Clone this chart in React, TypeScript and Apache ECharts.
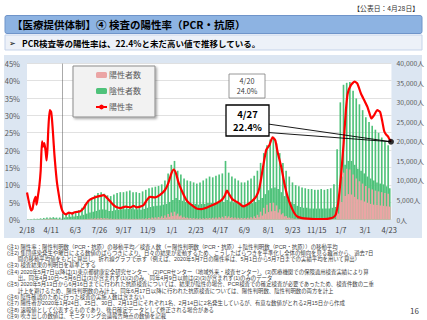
import React, { useEffect, useRef } from 'react';
import * as echarts from 'echarts';

const FONT = '"Noto Sans CJK JP", "Noto Sans", sans-serif';
const NOTE_FONT = '"Liberation Sans", "Noto Sans CJK JP", sans-serif';

// Day index 0 = 2020-02-18, ticks every 53 days
const START_UTC = Date.UTC(2020, 1, 18);
const TICK_DAYS = 53;

// 陽性率 (7-day moving average), [day index, %]
const positivityRate: [number, number][] = [
  [0, 7.8], [3, 5.8], [6, 4], [9, 2.6], [12, 3], [15, 5.1], [19, 6.5], [21, 4.3], [24, 6.8], [27, 9.5],
  [30, 14], [33, 22.5], [35, 21], [38, 22], [41, 19.5], [43, 17], [45, 20.5], [47, 26.5], [50, 31.5], [53, 31],
  [55, 28.6], [57, 25], [60, 19], [63, 14.3], [66, 10.4], [70, 7], [73, 4.7], [77, 2.7], [81, 1.8], [86, 1.5],
  [92, 2], [99, 1.7], [103, 2], [110, 2.2], [117, 2.4], [124, 3.2], [131, 4.7], [139, 5.8], [150, 6.4], [161, 6.8],
  [168, 7], [175, 6.3], [182, 5.3], [189, 4.3], [196, 3.6], [205, 3.3], [216, 3.7], [227, 3.5], [234, 3.9], [241, 3.5],
  [248, 3.7], [256, 4.2], [263, 5.6], [270, 6.5], [281, 6.4], [292, 7.1], [303, 8.5], [310, 10.4], [317, 13.3], [322, 14.4],
  [327, 13.3], [332, 10.9], [339, 8.5], [350, 5.6], [361, 4.2], [372, 3.2], [383, 3], [394, 3.4], [405, 4], [416, 4.7],
  [427, 5.6], [434, 6.8], [439, 8.3], [444, 7.2], [451, 5.8], [460, 5.1], [467, 4.5], [474, 3.8], [481, 4.1], [492, 5.1],
  [503, 6.6], [510, 9], [518, 15], [525, 20], [532, 21.4], [539, 23.7], [545, 22.8], [550, 19.5], [558, 15.2], [565, 10.4],
  [572, 6.6], [580, 3.7], [587, 1.8], [594, 0.8], [604, 0.4], [615, 0.25], [630, 0.15], [652, 0.15], [668, 0.4], [674, 0.8],
  [678, 1.5], [683, 4.7], [689, 12.3], [695, 21.9], [700, 31.5], [704, 36.3], [711, 38.7], [719, 39.7], [725, 39.2], [733, 36.3],
  [740, 34.4], [747, 32.5], [752, 30.5], [756, 29.1], [762, 30.1], [769, 31.5], [775, 31], [780, 28.2], [784, 25.5], [788, 24.5],
  [792, 24.0], [796, 23.0], [799, 22.4],
];

// Weekly readings (unit: 100人), week k covers days 7k..7k+6
// 検査人数 (陽性+陰性) weekday high / weekend low
const testsHigh = [
  1, 1, 2, 2, 3,
  4, 5, 5, 6, 5, 5,
  14, 15, 16, 19, 21, 24, 30, 40, 50,
  55, 62, 68, 70, 66, 62, 60, 64, 68, 70,
  70, 72, 74, 70, 70, 68, 72, 76, 80, 82,
  84, 86, 90, 100, 118, 140, 150, 125, 115, 105,
  100, 98, 95, 92, 95, 100, 105, 110, 108, 112,
  115, 118, 150, 120, 110, 105, 100, 95, 95, 100,
  105, 112, 125, 145, 170, 190, 205, 212, 195, 170,
  145, 125, 110, 95, 88, 85, 82, 80, 78, 78,
  76, 76, 78, 76, 78, 80, 90, 180, 300, 345,
  350, 352, 330, 310, 295, 280, 262, 250, 240, 230,
  222, 210, 200, 190,
];
const testsLow = [
  0.5, 0.5, 1, 1, 1,
  2, 2, 3, 3, 2, 2,
  5, 6, 7, 8, 9, 10, 12, 15, 18,
  20, 22, 25, 26, 25, 22, 22, 24, 25, 26,
  26, 27, 28, 26, 26, 25, 27, 30, 32, 34,
  35, 36, 38, 40, 45, 50, 55, 50, 48, 45,
  42, 40, 40, 38, 40, 40, 42, 42, 42, 44,
  45, 45, 50, 46, 44, 42, 40, 38, 38, 40,
  42, 45, 50, 55, 65, 75, 80, 82, 78, 70,
  60, 52, 45, 40, 35, 32, 30, 30, 28, 28,
  28, 28, 28, 28, 28, 30, 32, 60, 110, 140,
  150, 150, 140, 130, 125, 118, 110, 105, 100, 95,
  92, 90, 85, 80,
];
// 陽性者数 weekday high / weekend low
const positiveHigh = [
  0.1, 0.1, 0.2, 0.3, 0.6,
  1, 1.5, 1.8, 1.5, 1, 0.6,
  0.3, 0.2, 0.2, 0.3, 0.4, 0.5, 0.8, 1.2, 1.8,
  2.5, 3, 3.5, 3.8, 3.5, 3, 2.5, 2.2, 2, 2,
  2, 2, 2, 2, 2, 2, 2.5, 3, 4, 5,
  5.5, 6.5, 8, 10, 14, 18, 20, 15, 10, 7,
  5, 4, 3.5, 3, 3, 3.2, 3.5, 4, 4.5, 5,
  6, 7, 9, 8, 6, 5, 4.5, 4, 4, 4.5,
  5.5, 8, 12, 20, 30, 38, 42, 43, 36, 26,
  16, 9, 5, 3, 2, 1, 0.8, 0.6, 0.5, 0.4,
  0.3, 0.3, 0.3, 0.3, 0.3, 0.4, 1, 30, 90, 120,
  130, 128, 115, 105, 98, 92, 86, 80, 77, 74,
  72, 70, 68, 66,
];
const positiveLow = [
  0, 0, 0.1, 0.2, 0.3,
  0.5, 0.8, 1, 0.8, 0.5, 0.3,
  0.1, 0.1, 0.1, 0.2, 0.2, 0.3, 0.4, 0.6, 1,
  1.2, 1.5, 1.8, 2, 1.8, 1.5, 1.2, 1.1, 1, 1,
  1, 1, 1, 1, 1, 1, 1.2, 1.5, 2, 2.5,
  2.8, 3.2, 4, 5, 7, 9, 10, 8, 5, 3.5,
  2.5, 2, 1.8, 1.5, 1.5, 1.6, 1.8, 2, 2.2, 2.5,
  3, 3.5, 4.5, 4, 3, 2.5, 2.2, 2, 2, 2.2,
  2.8, 4, 6, 10, 15, 19, 21, 22, 18, 13,
  8, 4.5, 2.5, 1.5, 1, 0.5, 0.4, 0.3, 0.2, 0.2,
  0.2, 0.2, 0.2, 0.2, 0.2, 0.2, 0.5, 15, 45, 60,
  65, 64, 58, 52, 49, 46, 43, 40, 38, 37,
  36, 35, 34, 33,
];

const leftTicks = { min: 0, max: 45, interval: 5 };
const rightTicks = { min: 0, max: 40000, interval: 5000 };

const callout1 = ['4/20', '24.0%'];
const callout2 = ['4/27', '22.4%'];

const footnotes: string[] = [
  '(注1) 陽性率：陽性判明数（PCR・抗原）の移動平均／検査人数（＝陽性判明数（PCR・抗原）＋陰性判明数（PCR・抗原））の移動平均',
  '(注2) 集団感染発生や曜日による数値のばらつきにより、日々の結果が変動するため、こうしたばらつきを平準化し全体の傾向を見る趣旨から、過去7日',
  '\u3000\u3000間の移動平均値をもとに算出し、折れ線グラフで示す（例えば、2020年5月7日の陽性率は、5月1日から5月7日までの実績平均を用いて算出）',
  '(注3) 検査結果の判明日を基準とする',
  '(注4) 2020年5月7日以降は(1)東京都健康安全研究センター、(2)PCRセンター（地域外来・検査センター）、(3)医療機関での保険適用検査実績により算',
  '\u3000\u3000出。同年4月10日～5月6日は(3)が含まれず(1)(2)のみ、同年4月9日以前は(2)(3)が含まれず(1)のみのデータ',
  '(注5) 2020年5月13日から6月16日までに行われた抗原検査については、結果が陰性の場合、PCR検査での確定検査が必要であったため、検査件数の二重',
  '\u3000\u3000計上を避けるため、陽性判明数のみ計上。同年6月17日以降に行われた抗原検査については、陽性判明数、陰性判明数の両方を計上',
  '(注6) 陰性確認のために行った検査の実施人数は含まない',
  '(注7) 陽性者が2020年1月24日、25日、30日、2月13日にそれぞれ1名、2月14日に2名発生しているが、有意な数値がとれる2月15日から作成',
  '(注8) 速報値として公表するものであり、後日確定データとして修正される場合がある',
  '(注9) 吹き出しの数値は、モニタリング会議報告時点の数値を記載',
];

function dayLabel(d: number): string {
  const dt = new Date(START_UTC + d * 86400000);
  return `${dt.getUTCMonth() + 1}/${dt.getUTCDate()}`;
}

function withComma(v: number): string {
  return String(v).replace(/\B(?=(\d{3})+(?!\d))/g, ',');
}

// positive bars drawn over the full (positive + negative) column
function buildBars() {
  const pos: [number, number][] = [];
  const column: [number, number][] = [];
  for (let k = 0; k < testsHigh.length; k++) {
    const dHigh = 7 * k + 1.75;
    const dLow = 7 * k + 5.25;
    pos.push([dHigh, positiveHigh[k] * 100]);
    column.push([dHigh, testsHigh[k] * 100]);
    pos.push([dLow, positiveLow[k] * 100]);
    column.push([dLow, testsLow[k] * 100]);
  }
  return { pos, column };
}

function txt(x: number, y: number, text: string, size: number, extra: any = {}) {
  return {
    type: 'text',
    x,
    y,
    z: 102,
    style: {
      text,
      fontSize: size,
      fontFamily: FONT,
      fill: '#262626',
      align: 'left',
      textAlign: 'left',
      verticalAlign: 'middle',
      textVerticalAlign: 'middle',
      ...extra,
    },
  };
}

function buildGraphic(end: number[]) {
  const els: any[] = [
    { type: 'rect', z: -10, shape: { x: 4, y: 55, width: 418, height: 183 }, style: { fill: '#dce6f2' } },
    txt(419, 8, '【公表日：4月28日】', 6.8, { align: 'right', textAlign: 'right', fill: '#333' }),
    { type: 'rect', z: 1, shape: { x: 5, y: 15.5, width: 417, height: 18, r: 2 }, style: { fill: '#8db3e2', stroke: '#6f94c9', lineWidth: 1 } },
    txt(12, 24.8, '【医療提供体制】④ 検査の陽性率（PCR・抗原）', 10.5, { fontWeight: 'bold', fill: '#000' }),
    { type: 'rect', z: 1, shape: { x: 5, y: 35, width: 417, height: 15 }, style: { fill: '#edf1f8', stroke: '#c5d3ea', lineWidth: 1 } },
    txt(9, 42.5, '➢', 7.5, { fill: '#000' }),
    txt(22, 42.5, 'PCR検査等の陽性率は、22.4%と未だ高い値で推移している。', 8.5, { fontWeight: 'bold', fill: '#000' }),
    txt(7, 243.4, footnotes.join('\n'), 5.4, {
      fill: '#404040',
      fontFamily: NOTE_FONT,
      lineHeight: 6.3,
      verticalAlign: 'top',
      textVerticalAlign: 'top',
    }),
    txt(419, 310.5, '16', 8, { align: 'right', textAlign: 'right', fill: '#404040' }),
  ];
  // callout tail
  els.push({ type: 'line', z: 100, shape: { x1: 268, y1: 124, x2: end[0], y2: end[1] }, style: { stroke: '#000', lineWidth: 0.9 } });
  els.push({ type: 'line', z: 100, shape: { x1: 268, y1: 132.5, x2: end[0], y2: end[1] }, style: { stroke: '#000', lineWidth: 0.9 } });
  // callout boxes
  els.push({ type: 'rect', z: 101, shape: { x: 229, y: 74, width: 36, height: 24 }, style: { fill: '#fff', stroke: '#7f7f7f', lineWidth: 0.8 } });
  els.push(txt(247, 80.5, callout1[0], 7.2, { align: 'center', textAlign: 'center', fill: '#404040' }));
  els.push(txt(247, 91, callout1[1], 7.2, { align: 'center', textAlign: 'center', fill: '#404040' }));
  els.push({ type: 'rect', z: 101, shape: { x: 226, y: 105, width: 43, height: 31 }, style: { fill: '#fff', stroke: '#000', lineWidth: 1.3 } });
  els.push(txt(247.5, 114, callout2[0], 9.5, { align: 'center', textAlign: 'center', fill: '#000', fontWeight: 'bold' }));
  els.push(txt(247.5, 127, callout2[1], 9.5, { align: 'center', textAlign: 'center', fill: '#000', fontWeight: 'bold' }));
  return els;
}

export default function App() {
  const ref = useRef<HTMLDivElement>(null);

  useEffect(() => {
    if (!ref.current) return;
    const chart = echarts.init(ref.current, undefined, { renderer: 'svg' });
    const { pos, column } = buildBars();

    const option: any = {
      animation: false,
      backgroundColor: '#ffffff',
      textStyle: { fontFamily: FONT },
      grid: {
        left: 27,
        right: 34.3,
        top: 63.3,
        bottom: 100.5,
        show: true,
        backgroundColor: '#ffffff',
        borderWidth: 0,
      },
      legend: {
        data: ['陽性者数', '陰性者数', '陽性率'],
        orient: 'vertical',
        left: 73,
        top: 66,
        itemWidth: 11,
        itemHeight: 6,
        itemGap: 8,
        padding: [5, 14, 6, 22],
        backgroundColor: '#f2f2f2',
        borderColor: '#8c8c8c',
        borderWidth: 1,
        shadowColor: 'rgba(0,0,0,0.35)',
        shadowBlur: 2,
        shadowOffsetX: 1.5,
        shadowOffsetY: 1.5,
        textStyle: { fontSize: 8, color: '#595959', fontFamily: FONT, padding: [0, 0, 0, -3] },
      },
      xAxis: {
        type: 'value',
        min: 0,
        max: 800,
        interval: TICK_DAYS,
        axisLine: { show: false },
        axisTick: { show: false },
        splitLine: { show: false },
        axisLabel: {
          color: '#404040',
          fontSize: 7.5,
          margin: 6,
          showMaxLabel: false,
          formatter: (v: number) => (v % TICK_DAYS === 0 ? dayLabel(v) : ''),
        },
      },
      yAxis: [
        {
          type: 'value',
          ...leftTicks,
          position: 'left',
          axisLine: { show: false },
          axisTick: { show: false },
          splitLine: { lineStyle: { color: '#d9d9d9', width: 0.8 } },
          axisLabel: { formatter: '{value}%', fontSize: 7.5, color: '#595959', margin: 7 },
        },
        {
          type: 'value',
          ...rightTicks,
          position: 'right',
          axisLine: { show: false },
          axisTick: { show: false },
          splitLine: { show: false },
          axisLabel: { formatter: (v: number) => withComma(v) + '人', fontSize: 6.8, color: '#595959', margin: 5 },
        },
      ],
      series: [
        {
          name: '陰性者数',
          type: 'bar',
          yAxisIndex: 1,
          barWidth: 1.65,
          barGap: '-100%',
          itemStyle: { color: '#4fc27a' },
          data: column,
        },
        {
          name: '陽性者数',
          type: 'bar',
          yAxisIndex: 1,
          barWidth: 1.65,
          barGap: '-100%',
          itemStyle: { color: '#eba5a5' },
          data: pos,
        },
        {
          name: '陽性率',
          type: 'line',
          yAxisIndex: 0,
          showSymbol: false,
          symbol: 'none',
          smooth: 0.2,
          z: 5,
          lineStyle: { color: '#ff0000', width: 2.2 },
          itemStyle: { color: '#ff0000' },
          data: positivityRate,
          markLine: {
            silent: true,
            symbol: 'none',
            label: { show: false },
            lineStyle: { type: 'dotted', color: '#555', width: 1 },
            data: [{ xAxis: 78 }],
          },
        },
        {
          name: 'latest',
          type: 'scatter',
          yAxisIndex: 0,
          z: 10,
          symbolSize: 6,
          itemStyle: { color: '#000' },
          data: [positivityRate[positivityRate.length - 1]],
        },
      ],
      graphic: buildGraphic([391, 142]),
    };

    chart.setOption(option);
    const last = positivityRate[positivityRate.length - 1];
    const end = chart.convertToPixel({ xAxisIndex: 0, yAxisIndex: 0 }, [last[0], last[1]]) as number[];
    if (end && isFinite(end[0]) && isFinite(end[1])) {
      chart.setOption({ graphic: buildGraphic(end) }, { replaceMerge: ['graphic'] } as any);
    }

    return () => {
      chart.dispose();
    };
  }, []);

  return <div ref={ref} style={{ position: 'fixed', left: 0, top: 0, width: 427, height: 320 }} />;
}
